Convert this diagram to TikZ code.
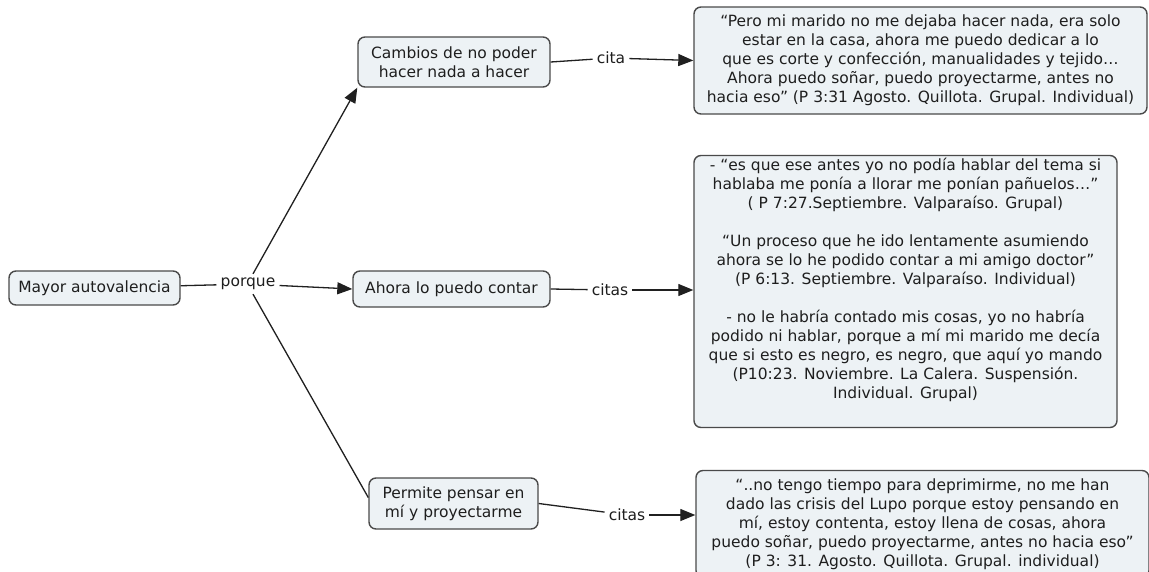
\documentclass[tikz,border=0pt]{standalone}
\usepackage{fontspec}
\setmainfont{DejaVu Sans}
\usetikzlibrary{arrows.meta}
\definecolor{boxfill}{HTML}{EDF2F5}
\definecolor{boxdraw}{HTML}{4A4A4A}
\definecolor{linkc}{HTML}{202020}
\definecolor{txtc}{HTML}{1E1E1E}
\begin{document}
\begin{tikzpicture}[x=1pt,y=-1pt,
  every node/.style={font=\fontsize{15.5}{19}\selectfont, text=txtc},
  concept/.style={draw=boxdraw, fill=boxfill, line width=1.4pt, rounded corners=7pt, align=center, inner sep=0pt},
  linklabel/.style={inner xsep=4pt, inner ysep=3pt, fill=white},
  link/.style={draw=linkc, line width=1.3pt},
  arrowlink/.style={link, -{Triangle[length=15pt,width=12pt]}}
]
\useasboundingbox (0,0) rectangle (1149,571);
\clip (0,0) rectangle (1149,571);
\fill[white] (0,0) rectangle (1149,571);

% concepts
\node[concept, minimum width=171pt, minimum height=34pt] (mayor) at (94.5,288) {Mayor autovalencia};
\node[concept, minimum width=192pt, minimum height=50pt] (cambios) at (454,62) {Cambios de no poder\\hacer nada a hacer};
\node[concept, minimum width=197pt, minimum height=36pt] (ahora) at (451.5,289) {Ahora lo puedo contar};
\node[concept, minimum width=169pt, minimum height=51pt] (permite) at (453.5,503.5) {Permite pensar en\\mí y proyectarme};

% quote boxes
\node[concept, minimum width=453pt, minimum height=107pt] (q1) at (920.5,60.5)
 {“Pero mi marido no me dejaba hacer nada, era solo\\
  estar en la casa, ahora me puedo dedicar a lo\\
  que es corte y confección, manualidades y tejido…\\
  Ahora puedo soñar, puedo proyectarme, antes no\\
  hacia eso” (P 3:31 Agosto. Quillota. Grupal. Individual)};

\node[concept, minimum width=423pt, minimum height=272pt] (q2) at (905.5,291.5) {};
\node[align=center, anchor=north, inner sep=0pt] (q2t) at (905.5,158)
 {- “es que ese antes yo no podía hablar del tema si\\
  hablaba me ponía a llorar me ponían pañuelos…”\\
  ( P 7:27.Septiembre. Valparaíso. Grupal)\\[19pt]
  “Un proceso que he ido lentamente asumiendo\\
  ahora se lo he podido contar a mi amigo doctor”\\
  (P 6:13. Septiembre. Valparaíso. Individual)\\[19pt]
  - no le habría contado mis cosas, yo no habría\\
  podido ni hablar, porque a mí mi marido me decía\\
  que si esto es negro, es negro, que aquí yo mando\\
  (P10:23. Noviembre. La Calera. Suspensión.\\
  Individual. Grupal)};

\node[concept, minimum width=453pt, minimum height=107pt] (q3) at (922.5,524)
 {“..no tengo tiempo para deprimirme, no me han\\
  dado las crisis del Lupo porque estoy pensando en\\
  mí, estoy contenta, estoy llena de cosas, ahora\\
  puedo soñar, puedo proyectarme, antes no hacia eso”\\
  (P 3: 31. Agosto. Quillota. Grupal. individual)};

% link labels
\node[linklabel] (porque) at (248,284) {porque};
\node[linklabel] (cita1) at (611,58) {cita};
\node[linklabel] (citas2) at (610,290) {citas};
\node[linklabel] (citas3) at (627,515) {citas};

% connectors
\draw[link] (mayor) -- (porque);
\draw[arrowlink] (porque.north) ++(5,-1) coordinate (pn) -- (cambios.south west);
\draw[link] (porque.south) ++(5,1) coordinate (ps) -- (permite.176);
\draw[arrowlink] (porque) -- (ahora.west);
\draw[link] (cambios.east) -- (cita1);
\draw[arrowlink] (cita1) -- (q1.west);
\draw[link] (ahora.east) -- (citas2);
\draw[arrowlink] (citas2) -- (q2.west |- citas2);
\draw[link] (permite.east) -- (citas3);
\draw[arrowlink] (citas3) -- (q3.west |- citas3);
\end{tikzpicture}
\end{document}
